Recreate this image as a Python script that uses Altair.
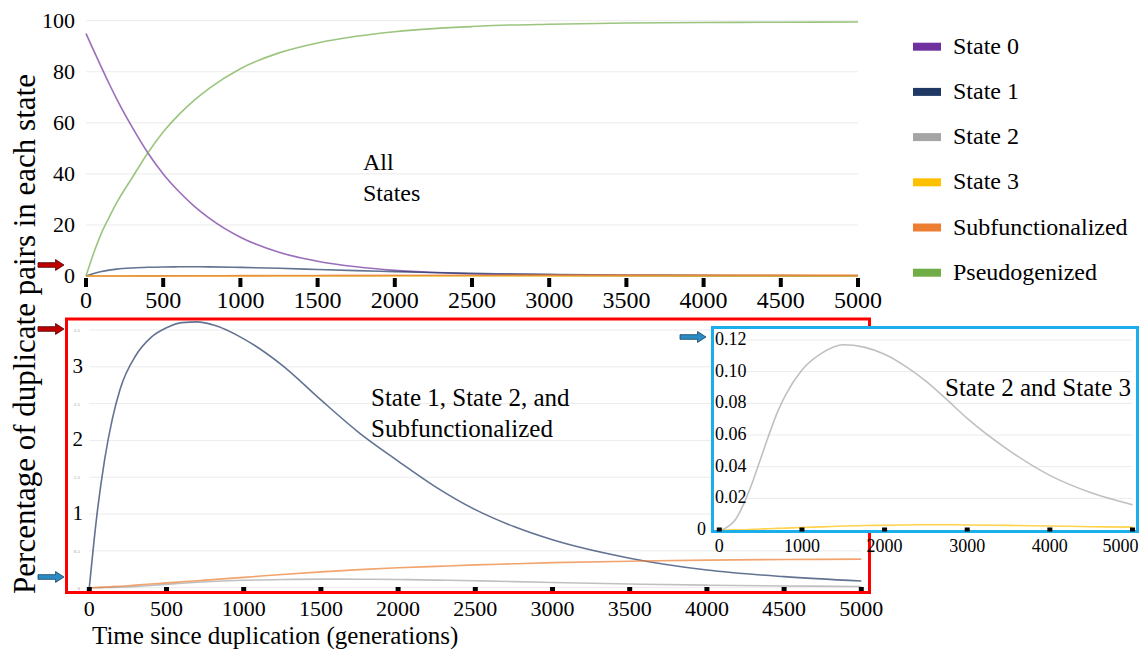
import altair as alt
import pandas as pd

# ---------------- data ----------------
T = [0, 50, 100, 150, 200, 300, 400, 500, 600, 700, 800, 1000, 1250, 1500,
     1750, 2000, 2250, 2500, 2750, 3000, 3500, 4000, 4500, 5000]
STATE0 = [95, 88.3, 81.7, 75.3, 69.2, 58.2, 48.3, 40, 33.2, 27.4, 22.6, 15.2, 9.3, 5.8,
          3.6, 2.2, 1.35, 0.8, 0.5, 0.3, 0.11, 0.04, 0.015, 0.005]
STATE1 = [0, 1.0, 1.75, 2.3, 2.7, 3.15, 3.4, 3.53, 3.6, 3.61, 3.57, 3.38, 3.02, 2.55,
          2.1, 1.72, 1.36, 1.06, 0.83, 0.65, 0.4, 0.24, 0.15, 0.09]
STATE2 = [0, 0.0005, 0.002, 0.004, 0.007, 0.017, 0.03, 0.045, 0.06, 0.074, 0.085, 0.101,
          0.112, 0.117, 0.1155, 0.111, 0.1035, 0.094, 0.0825, 0.0705, 0.0505, 0.0345,
          0.0235, 0.016]
STATE3 = [0, 0, 0.00002, 0.00005, 0.0001, 0.0002, 0.0004, 0.0006, 0.0008, 0.001, 0.0012,
          0.0016, 0.002, 0.0025, 0.0028, 0.003, 0.0032, 0.0033, 0.0033, 0.0032, 0.0029,
          0.0025, 0.0021, 0.0018]
SUBFUNC = [0, 0.003, 0.008, 0.014, 0.02, 0.035, 0.05, 0.065, 0.08, 0.095, 0.11, 0.14,
           0.18, 0.215, 0.245, 0.27, 0.29, 0.31, 0.325, 0.34, 0.36, 0.375, 0.383, 0.388]
PSEUDO = [0, 9.0, 16.8, 23.0, 28.8, 38.6, 48.2, 56.4, 63.1, 68.8, 73.6, 81.2, 87.4, 91.3,
          93.9, 95.7, 96.9, 97.7, 98.3, 98.6, 99.1, 99.3, 99.4, 99.5]

SERIES = ["State 0", "State 1", "State 2", "State 3", "Subfunctionalized", "Pseudogenized"]
COLORS = ["#7030A0", "#1F3864", "#A5A5A5", "#FFC000", "#ED7D31", "#70AD47"]

X_TICKS = [0, 500, 1000, 1500, 2000, 2500, 3000, 3500, 4000, 4500, 5000]
TOP_Y_TICKS = [0, 20, 40, 60, 80, 100]
TOP_GRID = [20, 40, 60, 80, 100]
BOT_GRID = [0, 0.5, 1, 1.5, 2, 2.5, 3, 3.5]
BOT_MINOR = ["0", "0.5", "1.5", "2.5", "3.5"]
BOT_Y_TICKS = ["1", "2", "3"]
INSET_X_TICKS = [0, 1000, 2000, 3000, 4000, 5000]
INSET_Y_TICKS = ["0.02", "0.04", "0.06", "0.08", "0.10", "0.12"]

X_TITLE = "Time since duplication (generations)"
Y_TITLE = "Percentage of duplicate pairs in each state"

# ---------------- layout (canvas pixels) ----------------
W, H = 1132, 641
TOP_X, TOP_Y = [78, 850], [268, 12.7]
BOT_X, BOT_Y = [81.3, 853.3], [579.7, 322]
IN_X, IN_Y = [711.3, 1124.5], [522, 332]
FONT = "Liberation Serif"

rows = []
for name, vals in zip(SERIES, [STATE0, STATE1, STATE2, STATE3, SUBFUNC, PSEUDO]):
    for t, v in zip(T, vals):
        rows.append({"t": t, "v": v, "series": name})
long = pd.DataFrame(rows)
ONE = pd.DataFrame({"k": [0]})


def sc(domain, rng):
    return alt.Scale(domain=domain, range=rng, nice=False, zero=False)


xs_top, ys_top = sc([0, 5000], TOP_X), sc([0, 100], TOP_Y)
xs_bot, ys_bot = sc([0, 5000], BOT_X), sc([0, 3.5], BOT_Y)
xs_in, ys_in = sc([0, 5000], IN_X), sc([0, 0.12], IN_Y)

color_scale = alt.Scale(domain=SERIES, range=COLORS)
legend = alt.Legend(orient="none", legendX=901, legendY=20.7, title=None,
                    labelFontSize=24, labelColor="black", labelFont=FONT, labelLimit=400,
                    labelOffset=8, symbolType="stroke", symbolSize=784,
                    symbolStrokeWidth=8, symbolOpacity=1, rowPadding=11.2, padding=0)


def line_layer(names, xs, ys, leg=None):
    return alt.Chart(long).transform_filter(
        alt.FieldOneOfPredicate(field="series", oneOf=names)
    ).mark_line(strokeWidth=1.6, opacity=0.7, interpolate="monotone").encode(
        x=alt.X("t:Q", scale=xs, axis=None),
        y=alt.Y("v:Q", scale=ys, axis=None),
        color=alt.Color("series:N", scale=color_scale, legend=leg),
    )


def grid_layer(values, xs, ys):
    return alt.Chart(pd.DataFrame({"g": values})).transform_calculate(
        a="0", b="5000"
    ).mark_rule(color="#ebebeb", strokeWidth=1).encode(
        x=alt.X("a:Q", scale=xs, axis=None), x2="b:Q",
        y=alt.Y("g:Q", scale=ys, axis=None),
    )


def x_ticks(values, xs, y1, y2, w):
    return alt.Chart(pd.DataFrame({"t": values})).mark_rule(
        color="black", strokeWidth=w).encode(
        x=alt.X("t:Q", scale=xs, axis=None), y=alt.value(y1), y2=alt.value(y2))


def x_labels(values, xs, y, size, align="center", dx=0):
    return alt.Chart(pd.DataFrame({"t": values})).mark_text(
        align=align, dx=dx, baseline="middle", fontSize=size, font=FONT,
        color="black").encode(
        x=alt.X("t:Q", scale=xs, axis=None), y=alt.value(y),
        text=alt.Text("t:Q", format="d"))


def y_labels(labels, ys, x, size, align="right", color="black"):
    return alt.Chart(pd.DataFrame({"lab": labels})).transform_calculate(
        g="toNumber(datum.lab)"
    ).mark_text(align=align, baseline="middle", fontSize=size, font=FONT,
                color=color).encode(
        y=alt.Y("g:Q", scale=ys, axis=None), x=alt.value(x), text="lab:N")


def box(x1, x2, y1, y2, **kw):
    return alt.Chart(ONE).mark_rect(**kw).encode(
        x=alt.value(x1), x2=alt.value(x2), y=alt.value(y1), y2=alt.value(y2))


def label(txt, x, y, size, **kw):
    return alt.Chart(ONE).mark_text(text=txt, fontSize=size, font=FONT, color="black",
                                    **kw).encode(x=alt.value(x), y=alt.value(y))


# ---------------- top panel: all states ----------------
top_panel = alt.layer(
    grid_layer(TOP_GRID, xs_top, ys_top),
    line_layer(SERIES, xs_top, ys_top, leg=legend),
    x_ticks(X_TICKS, xs_top, 270, 279, 4),
    x_labels(X_TICKS, xs_top, 293, 24),
    y_labels([str(v) for v in TOP_Y_TICKS], ys_top, 67, 22),
)

# ---------------- bottom panel ----------------
bot_panel = alt.layer(
    grid_layer(BOT_GRID, xs_bot, ys_bot),
    y_labels(BOT_MINOR, ys_bot, 72, 5, color="#999999"),
    line_layer(["State 1", "State 2", "Subfunctionalized"], xs_bot, ys_bot),
    x_ticks(X_TICKS, xs_bot, 579, 584, 5),
    x_labels(X_TICKS, xs_bot, 601, 22),
    y_labels(BOT_Y_TICKS, ys_bot, 75, 21),
)

red_frame = box(58.5, 861.5, 311, 584.5, fillOpacity=0, stroke="#FF0000", strokeWidth=3)

# ---------------- inset panel ----------------
inset_panel = alt.layer(
    box(704.5, 1129.5, 319.5, 523.5, fill="white", strokeWidth=0),
    grid_layer([float(v) for v in INSET_Y_TICKS], xs_in, ys_in),
    line_layer(["State 2", "State 3"], xs_in, ys_in),
    y_labels(INSET_Y_TICKS, ys_in, 707, 18, align="left"),
    y_labels(["0"], ys_in, 698, 18),
    box(704.5, 1129.5, 319.5, 523.5, fillOpacity=0, stroke="#1AAEEA", strokeWidth=3),
    x_ticks(INSET_X_TICKS, xs_in, 519.5, 523.5, 5),
    x_labels(INSET_X_TICKS[:-1], xs_in, 538.7, 18),
    x_labels(INSET_X_TICKS[-1:], xs_in, 538.7, 18, align="right", dx=6),
)

# ---------------- annotations ----------------
ARROW = "M-1,-0.18L0.35,-0.18L0.35,-0.42L1,0L0.35,0.42L0.35,0.18L-1,0.18Z"


def arrow(x, y, fill, stroke):
    return alt.Chart(ONE).mark_point(shape=ARROW, size=676, filled=True, fill=fill,
                                     stroke=stroke, strokeWidth=0.8, opacity=1).encode(
        x=alt.value(x), y=alt.value(y))


annotations = [
    label("All", 355, 155, 24, align="left", baseline="middle"),
    label("States", 355, 186, 24, align="left", baseline="middle"),
    label("State 1, State 2, and", 363, 390, 25, align="left", baseline="middle"),
    label("Subfunctionalized", 363, 421, 25, align="left", baseline="middle"),
    label("State 2 and State 3", 937, 380, 25, align="left", baseline="middle"),
    label(Y_TITLE, 18, 326, 31, align="center", baseline="middle", angle=270),
    label(X_TITLE, 84, 635.5, 25, align="left", baseline="alphabetic"),
    arrow(43, 257, "#C00000", "#4a0000"),
    arrow(43, 321, "#C00000", "#4a0000"),
    arrow(43, 569, "#2A8CC4", "#16435e"),
    arrow(685, 329, "#2A8CC4", "#16435e"),
]

chart = alt.layer(
    top_panel, bot_panel, red_frame, inset_panel, *annotations
).resolve_scale(
    x="independent", y="independent"
).properties(
    width=W, height=H, padding=0, autosize=alt.AutoSizeParams(type="none")
).configure(
    font=FONT, view=alt.ViewConfig(strokeWidth=0, stroke="transparent")
)

chart.save("out.html", embed_options={"renderer": "svg", "actions": False})
